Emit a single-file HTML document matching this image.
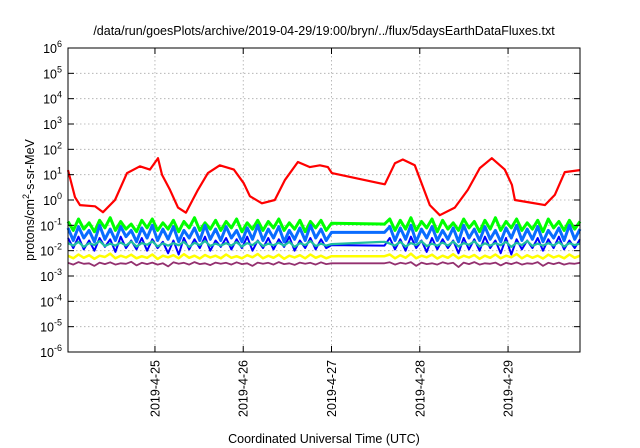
<!DOCTYPE html>
<html><head><meta charset="utf-8"><style>
html,body{margin:0;padding:0;background:#fff;}
svg{display:block;font-family:"Liberation Sans",sans-serif;}
</style></head><body>
<svg id="chart" width="640" height="448" viewBox="0 0 640 448">
<text x="324" y="35" font-size="12.5" text-anchor="middle">/data/run/goesPlots/archive/2019-04-29/19:00/bryn/../flux/5daysEarthDataFluxes.txt</text>
<text transform="translate(34,200) rotate(-90)" font-size="12.5" text-anchor="middle">protons/cm<tspan baseline-shift="super" font-size="9">2</tspan>-s-sr-MeV</text>
<text x="324" y="443" font-size="12.5" text-anchor="middle">Coordinated Universal Time (UTC)</text>
<g id="grid"></g>
<g id="series"></g>
<rect x="68" y="48" width="512" height="304" fill="none" stroke="#000" stroke-width="1"/>
<g id="axes"></g>
</svg>
<script>
const yTickExps=[6,5,4,3,2,1,0,-1,-2,-3,-4,-5,-6];
const xTickDays=[1,2,3,4,5];
const xTickLabels=["2019-4-25","2019-4-26","2019-4-27","2019-4-28","2019-4-29"];
const redDays=[0.015,0.094,0.151,0.321,0.412,0.547,0.683,0.830,0.943,1.034,1.080,1.170,1.261,1.351,1.487,1.600,1.735,1.894,2.007,2.076,2.211,2.358,2.471,2.619,2.755,2.868,2.959,3.004,3.604,3.718,3.808,3.944,4.114,4.227,4.397,4.544,4.680,4.816,4.963,5.043,5.077,5.247,5.417,5.530,5.643,5.813];
const redLog=[1.18,0.11,-0.2,-0.25,-0.48,0,1.06,1.33,1.2,1.65,1.0,0.4,-0.3,-0.5,0.4,1.06,1.37,1.2,0.66,0.15,-0.13,0,0.78,1.5,1.3,1.37,1.3,1.06,0.62,1.45,1.6,1.37,-0.2,-0.6,-0.3,0.4,1.26,1.65,1.2,0.6,0,-0.1,-0.2,0.2,1.1,1.18];
const seg1=[0.015,3.0,51], seg2=[3.6,5.815,38];
const greenLog=[-0.85,-1.2,-0.75,-1.15,-0.9,-1.25,-0.8,-1.1,-0.7,-1.2,-0.85,-1.15,-0.95,-1.25,-0.8,-1.1,-0.75,-1.2,-0.9,-1.15,-0.8,-1.25,-0.85,-1.1,-0.7,-1.2,-0.9,-1.15,-0.8,-1.2,-0.85,-1.1,-0.75,-1.25,-0.9,-1.15,-0.8,-1.2,-0.85,-1.1,-0.75,-1.2,-0.9,-1.15,-0.8,-1.25,-0.85,-1.1,-0.8,-1.2,-0.92,
-0.95,-0.75,-1.2,-0.8,-1.15,-0.7,-1.2,-0.85,-1.1,-0.75,-1.25,-0.8,-1.15,-0.9,-1.2,-0.75,-1.1,-0.85,-1.25,-0.8,-1.15,-0.7,-1.2,-0.85,-1.1,-0.75,-1.2,-0.9,-1.15,-0.8,-1.25,-0.75,-1.1,-0.85,-1.2,-0.8,-1.15,-0.85];
const blueLog=[-1.5,-1.9,-1.45,-1.95,-1.6,-2.0,-1.5,-1.85,-1.55,-2.05,-1.45,-1.9,-1.6,-1.95,-1.5,-2.0,-1.55,-1.9,-1.65,-2.1,-1.6,-2.15,-1.5,-1.95,-1.55,-1.9,-1.45,-2.0,-1.6,-1.85,-1.5,-1.95,-1.55,-1.9,-1.45,-2.0,-1.6,-1.9,-1.5,-1.95,-1.55,-1.85,-1.45,-2.0,-1.6,-1.9,-1.5,-1.95,-1.55,-1.9,-1.78,
-1.8,-1.5,-1.95,-1.55,-2.0,-1.45,-1.9,-1.6,-2.05,-1.5,-1.95,-1.55,-1.9,-1.6,-2.1,-1.5,-1.95,-1.55,-2.0,-1.45,-1.9,-1.6,-2.1,-1.5,-2.15,-1.55,-1.95,-1.6,-1.9,-1.5,-2.0,-1.55,-1.9,-1.45,-1.95,-1.6,-1.9,-1.55];
const lightBlueLog=[-1.1,-1.6,-1.05,-1.5,-1.2,-1.65,-1.0,-1.55,-1.15,-1.6,-1.05,-1.45,-1.2,-1.65,-1.1,-1.5,-1.0,-1.6,-1.15,-1.55,-1.05,-1.65,-1.2,-1.5,-1.1,-1.6,-1.0,-1.55,-1.15,-1.6,-1.05,-1.5,-1.2,-1.65,-1.1,-1.55,-1.0,-1.6,-1.15,-1.5,-1.05,-1.65,-1.2,-1.55,-1.1,-1.6,-1.0,-1.5,-1.15,-1.6,-1.28,
-1.28,-1.05,-1.6,-1.1,-1.55,-1.0,-1.65,-1.15,-1.5,-1.05,-1.6,-1.2,-1.55,-1.1,-1.65,-1.0,-1.5,-1.15,-1.6,-1.05,-1.55,-1.2,-1.65,-1.1,-1.5,-1.0,-1.6,-1.15,-1.55,-1.05,-1.65,-1.2,-1.5,-1.1,-1.6,-1.0,-1.55,-1.15];
const tealLog=[-1.7,-1.8,-1.65,-1.85,-1.7,-1.78,-1.62,-1.82,-1.72,-1.8,-1.68,-1.8,-1.64,-1.84,-1.7,-1.77,-1.63,-1.83,-1.71,-1.8,-1.7,-1.79,-1.65,-1.85,-1.69,-1.78,-1.62,-1.81,-1.72,-1.8,-1.7,-1.8,-1.66,-1.84,-1.7,-1.78,-1.63,-1.82,-1.72,-1.79,-1.69,-1.8,-1.65,-1.85,-1.7,-1.78,-1.62,-1.82,-1.72,-1.8,-1.74,
-1.65,-1.72,-1.8,-1.65,-1.84,-1.7,-1.78,-1.63,-1.82,-1.72,-1.8,-1.68,-1.8,-1.64,-1.84,-1.7,-1.77,-1.63,-1.83,-1.71,-1.8,-1.7,-1.79,-1.65,-1.85,-1.69,-1.78,-1.62,-1.81,-1.72,-1.8,-1.7,-1.8,-1.66,-1.84,-1.7,-1.78,-1.72];
const yellowLog=[-2.2,-2.3,-2.15,-2.28,-2.18,-2.32,-2.2,-2.25,-2.12,-2.3,-2.2,-2.27,-2.16,-2.3,-2.22,-2.28,-2.15,-2.33,-2.2,-2.26,-2.18,-2.3,-2.14,-2.28,-2.2,-2.31,-2.17,-2.27,-2.2,-2.3,-2.15,-2.28,-2.22,-2.3,-2.18,-2.26,-2.13,-2.3,-2.2,-2.28,-2.16,-2.32,-2.2,-2.27,-2.18,-2.3,-2.15,-2.28,-2.2,-2.3,-2.22,
-2.22,-2.15,-2.3,-2.18,-2.28,-2.12,-2.3,-2.2,-2.26,-2.16,-2.31,-2.2,-2.28,-2.14,-2.3,-2.2,-2.27,-2.17,-2.32,-2.2,-2.28,-2.15,-2.3,-2.2,-2.26,-2.13,-2.3,-2.18,-2.28,-2.2,-2.31,-2.16,-2.27,-2.2,-2.3,-2.15,-2.28,-2.2];
const purpleLog=[-2.48,-2.55,-2.45,-2.52,-2.5,-2.6,-2.47,-2.53,-2.46,-2.55,-2.5,-2.52,-2.44,-2.58,-2.48,-2.53,-2.47,-2.55,-2.5,-2.62,-2.46,-2.52,-2.48,-2.55,-2.45,-2.53,-2.5,-2.57,-2.47,-2.52,-2.48,-2.55,-2.46,-2.53,-2.5,-2.6,-2.47,-2.52,-2.48,-2.55,-2.45,-2.53,-2.5,-2.56,-2.47,-2.52,-2.48,-2.55,-2.46,-2.53,-2.5,
-2.5,-2.46,-2.55,-2.48,-2.52,-2.45,-2.6,-2.47,-2.53,-2.5,-2.55,-2.46,-2.52,-2.48,-2.65,-2.47,-2.53,-2.45,-2.55,-2.5,-2.52,-2.47,-2.58,-2.48,-2.53,-2.46,-2.55,-2.5,-2.52,-2.45,-2.6,-2.48,-2.53,-2.47,-2.55,-2.5,-2.52,-2.48];

const X0=68,X1=580,Y0=48,Y1=352,D0=0.015,D1=5.815,E0=-6,E1=6;
const xs=d=>X0+(d-D0)/(D1-D0)*(X1-X0);
const ys=e=>Y1-(e-E0)/(E1-E0)*(Y1-Y0);
const NS="http://www.w3.org/2000/svg";
function mk(tag,attrs,parent){const el=document.createElementNS(NS,tag);for(const k in attrs)el.setAttribute(k,attrs[k]);parent.appendChild(el);return el;}
const grid=document.getElementById('grid'),axes=document.getElementById('axes'),series=document.getElementById('series');
yTickExps.forEach(e=>{
  const y=ys(e);
  if(e!==6&&e!==-6){const g=mk('line',{x1:X0,x2:X1,y1:y,y2:y,stroke:'#aaa','stroke-width':0.8,'stroke-dasharray':'1.5,2.5'},grid);
  
  }
  const t1=mk('line',{x1:X0,x2:X0+6,y1:y,y2:y,stroke:'#000'},axes);
  
  
  const t2=mk('line',{x1:X1-6,x2:X1,y1:y,y2:y,stroke:'#000'},axes);
  
  
  const tx=mk('text',{x:X0-6,y:y+5,'font-size':12.5,'text-anchor':'end'},axes);
  
  
  tx.innerHTML='10<tspan font-size="9" dy="-6">'+e+'</tspan>';
});
xTickDays.forEach((d,i)=>{
  const x=xs(d);
  const g=mk('line',{x1:x,x2:x,y1:Y0,y2:Y1,stroke:'#aaa','stroke-width':0.8,'stroke-dasharray':'1.5,2.5'},grid);
  
  
  const t1=mk('line',{x1:x,x2:x,y1:Y1-6,y2:Y1,stroke:'#000'},axes);
  
  
  const t2=mk('line',{x1:x,x2:x,y1:Y0,y2:Y0+6,stroke:'#000'},axes);
  
  
  const tx=mk('text',{transform:`translate(${x+4.5},${Y1+8}) rotate(-90)`,'font-size':12.5,'text-anchor':'end'},axes);
  
  
  tx.textContent=xTickLabels[i];
});
function segTimes(s){const a=[];for(let i=0;i<s[2];i++)a.push(s[0]+(s[1]-s[0])*i/(s[2]-1));return a;}
const bandDays=segTimes(seg1).concat(segTimes(seg2));
function draw(days,vals,color,name,w){
  const pts=days.map((d,i)=>xs(d).toFixed(1)+','+ys(vals[i]).toFixed(1)).join(' ');
  const p=mk('polyline',{points:pts,fill:'none',stroke:color,'stroke-width':w,'stroke-linejoin':'round'},series);
  
  
}
draw(bandDays,purpleLog,'#94306f','series-purple',1.8);
draw(bandDays,yellowLog,'#ffff00','series-yellow',2.5);
draw(bandDays,greenLog,'#00ff00','series-green',3);
draw(bandDays,blueLog,'#0000ff','series-blue',2);
draw(bandDays,lightBlueLog,'#0a6cff','series-light-blue',3);
draw(bandDays,tealLog,'#1fbf9f','series-teal',2.2);
draw(redDays,redLog,'#ff0000','series-red',2.2);
</script>
</body></html>
